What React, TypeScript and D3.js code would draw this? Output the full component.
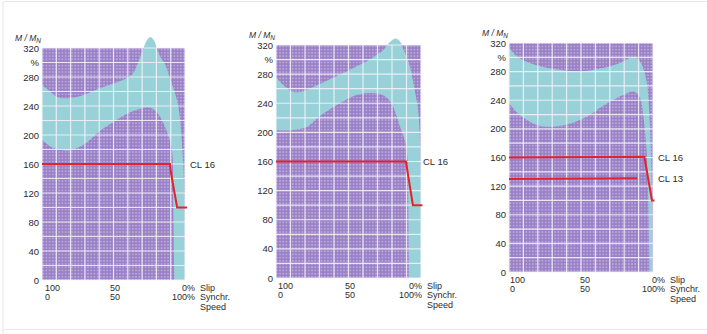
import * as d3 from "d3";

type Pt = [number, number]; // [speed % of synchronous, torque % of rated]

const yTickValues = [320, 300, 280, 240, 200, 160, 120, 80, 40, 0];
const yTickLabels = ["320", "%", "280", "240", "200", "160", "120", "80", "40", "0"];
const gridSpeed = d3.range(0, 101, 10);
const gridTorque = d3.range(0, 321, 20);
const slipLabels = ["100", "50", "0%"];
const speedLabels = ["0", "50", "100%"];
const axisNames = ["Slip", "Synchr.", "Speed"];

// panel 1
const p1Upper: Pt[] = [
  [0, 269], [5, 261], [11, 252], [20, 251], [30, 256], [40, 264], [50, 271], [60, 279],
  [64, 286], [67, 299], [70.5, 317], [73.5, 331], [76, 335], [78.5, 330], [80.5, 318],
  [83, 307], [86, 298], [89.5, 278], [93, 258], [95.5, 238], [98, 185], [99.5, 120], [100, 0],
];
const p1Lower: Pt[] = [
  [0, 193], [8, 182], [20, 179], [30, 188], [40, 205], [50, 218], [60, 230], [70, 237],
  [75, 238], [80, 232], [85, 216], [89, 195], [91, 178], [91.8, 100], [92.5, 0],
];
const p1CL16: Pt[] = [[0, 160], [89.5, 160], [90, 150], [94.5, 100], [101.4, 100]];

// panel 2
const p2Upper: Pt[] = [
  [0, 276], [4, 267], [10, 257], [15, 255], [22, 259], [32, 268], [44, 279], [56, 291],
  [67, 303], [74, 313], [78.5, 324], [82.5, 329], [85.5, 325], [88, 313], [91.7, 295],
  [94.4, 272], [96.5, 249], [98, 231], [99.5, 180], [100, 0],
];
const p2Lower: Pt[] = [
  [0, 203], [10, 203], [21, 207], [30, 222], [44, 240], [55, 251], [66, 254], [74, 251],
  [79, 242], [83, 224], [86, 205], [89, 188], [90.8, 165], [91.3, 100], [91.7, 0],
];
const p2CL16: Pt[] = [[0, 160], [89.6, 160], [94.4, 100], [101, 100]];

// panel 3
const p3Upper: Pt[] = [
  [0, 314], [4, 304], [8, 298], [19, 289], [37, 282], [49, 280], [60, 283], [70, 287],
  [78, 293], [84, 299], [88, 300], [91, 294], [93, 286], [95.8, 264], [97.2, 231],
  [98.3, 180], [99.2, 100], [99.6, 0],
];
const p3Lower: Pt[] = [
  [0, 236], [5, 224], [12, 213], [20, 205], [30, 203], [42, 207], [55, 218], [63, 229],
  [72, 240], [80, 248], [87, 252], [91, 243], [93.5, 215], [95.5, 170], [96.7, 100], [97.5, 0],
];
const p3CL16: Pt[] = [[0, 160], [94, 161], [99.3, 100], [101, 100]];
const p3CL13: Pt[] = [[0, 130], [89, 131]];

interface Curve { pts: Pt[]; label: string; at: number }
interface PanelCfg {
  id: string;
  left: number; right: number; top: number; bottom: number;
  upper: Pt[]; lower: Pt[]; curves: Curve[];
  labelGap: number; x100: number; x50: number; pctEnd: number; nameX: number;
}

const panels: PanelCfg[] = [
  { id: "a", left: 42, right: 185, top: 48, bottom: 280, upper: p1Upper, lower: p1Lower,
    curves: [{ pts: p1CL16, label: "CL 16", at: 160 }],
    labelGap: 5, x100: 45, x50: 110, pctEnd: 195, nameX: 200 },
  { id: "b", left: 276, right: 421, top: 45, bottom: 278, upper: p2Upper, lower: p2Lower,
    curves: [{ pts: p2CL16, label: "CL 16", at: 160 }],
    labelGap: 2, x100: 278, x50: 345, pctEnd: 422, nameX: 427 },
  { id: "c", left: 509, right: 653, top: 43, bottom: 272, upper: p3Upper, lower: p3Lower,
    curves: [{ pts: p3CL16, label: "CL 16", at: 160 }, { pts: p3CL13, label: "CL 13", at: 130 }],
    labelGap: 5, x100: 510, x50: 580, pctEnd: 665, nameX: 670 },
];

const font = "'Liberation Sans', Arial, sans-serif";
const ink = "#2b2b2b";

function Panel({ p }: { p: PanelCfg }) {
  const x = d3.scaleLinear().domain([0, 100]).range([p.left, p.right]);
  const y = d3.scaleLinear().domain([0, 320]).range([p.bottom, p.top]);
  const smooth = d3.line<Pt>().x((d) => x(d[0])).y((d) => y(d[1])).curve(d3.curveCatmullRom.alpha(0.5));
  const straight = d3.line<Pt>().x((d) => x(d[0])).y((d) => y(d[1]));
  const up = smooth(p.upper) as string;
  const lo = (smooth([...p.lower].reverse()) as string).replace(/^M/, "L");
  const band = up + lo + "Z";

  const r1 = p.bottom + 10.5, r2 = p.bottom + 20, r3 = p.bottom + 29.5;

  return (
    <g>
      <clipPath id={"clip-" + p.id}>
        <rect x={p.left} y={0} width={p.right - p.left} height={p.bottom} />
      </clipPath>
      <rect x={p.left} y={p.top} width={p.right - p.left} height={p.bottom - p.top} fill="url(#dots)" />
      <path d={band} fill="#98d2d8" clipPath={`url(#clip-${p.id})`} />
      {gridTorque.map((t) => (
        <line key={"h" + t} x1={p.left} x2={p.right} y1={y(t)} y2={y(t)} stroke="#f6f3fa" strokeOpacity={0.85} strokeWidth={1.2} />
      ))}
      {gridSpeed.map((s) => (
        <line key={"v" + s} x1={x(s)} x2={x(s)} y1={p.top} y2={p.bottom} stroke="#f6f3fa" strokeOpacity={0.85} strokeWidth={1.2} />
      ))}
      {p.curves.map((c) => (
        <g key={c.label}>
          <path d={straight(c.pts) as string} fill="none" stroke="#e2232c" strokeWidth={2} />
          <text x={p.right + p.labelGap} y={y(c.at) + 3.5} fontSize={9.5} fill={ink} fontFamily={font}>{c.label}</text>
        </g>
      ))}
      {yTickValues.map((v, i) => (
        <text key={"y" + v} x={p.left - 3} y={y(v) + 3.5} textAnchor="end" fontSize={9.5} fill={ink} fontFamily={font}>
          {yTickLabels[i]}
        </text>
      ))}
      <text x={p.left - 27} y={p.top - 7} fontSize={8.5} fontStyle="italic" fill={ink} fontFamily={font}>
        M / M<tspan fontSize={6.5} dy={2}>N</tspan>
      </text>
      <g fontSize={9} fill={ink} fontFamily={font}>
        <text x={p.x100} y={r1}>{slipLabels[0]}</text>
        <text x={p.x100} y={r2}>{speedLabels[0]}</text>
        <text x={p.x50} y={r1}>{slipLabels[1]}</text>
        <text x={p.x50} y={r2}>{speedLabels[1]}</text>
        <text x={p.pctEnd} y={r1} textAnchor="end">{slipLabels[2]}</text>
        <text x={p.pctEnd} y={r2} textAnchor="end">{speedLabels[2]}</text>
        <text x={p.nameX} y={r1}>{axisNames[0]}</text>
        <text x={p.nameX} y={r2}>{axisNames[1]}</text>
        <text x={p.nameX} y={r3}>{axisNames[2]}</text>
      </g>
    </g>
  );
}

export default function App() {
  return (
    <div style={{ position: "fixed", left: 0, top: 0 }}>
      <svg width={707} height={334} style={{ display: "block", background: "#ffffff" }}>
        <defs>
          <pattern id="dots" width={3.2} height={3.2} patternUnits="userSpaceOnUse">
            <rect width={3.2} height={3.2} fill="#9a80c6" />
            <circle cx={1.6} cy={1.6} r={0.9} fill="#c0b1e0" />
          </pattern>
        </defs>
        <path d="M3,334 L3,1.5 L707,1.5 M3,329.5 L707,329.5" fill="none" stroke="#ece4e6" strokeWidth={1} />
        {panels.map((p) => <Panel key={p.id} p={p} />)}
      </svg>
    </div>
  );
}
